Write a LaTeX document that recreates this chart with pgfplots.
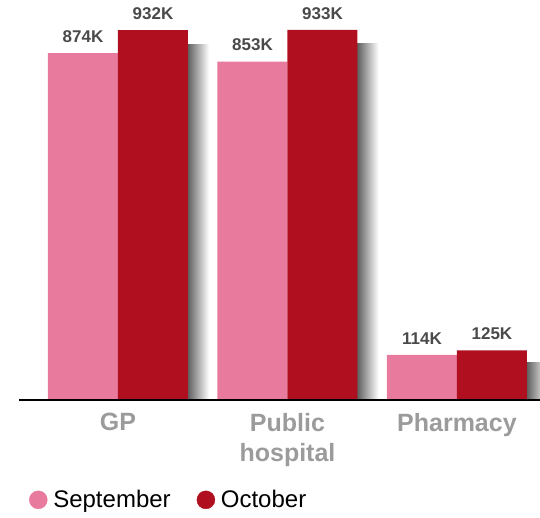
\documentclass[border=0pt]{standalone}
\usepackage{fontspec}
\setmainfont{Liberation Sans}
\usepackage{pgfplots}
\pgfplotsset{compat=1.18}

\definecolor{sepc}{HTML}{E87A9D}
\definecolor{octc}{HTML}{B00F20}
\definecolor{valc}{HTML}{4A4A4A}
\definecolor{catc}{HTML}{9B9B9B}

\pgfplotsset{
  shadowbar/.style={draw=none, bar shift=80pt, bar width=22pt, left color=black!65, right color=white},
  vallabels/.style={nodes near coords={\pgfmathprintnumber{\pgfplotspointmeta}K},
    nodes near coords style={font=\fontsize{17}{20}\selectfont\bfseries, text=valc, yshift=7pt}},
}

\begin{document}
\begin{tikzpicture}
\path[use as bounding box] (0,0) rectangle (540pt,517pt);
\begin{axis}[
  at={(19pt,117pt)}, anchor=south west,
  scale only axis, width=521pt, height=390pt,
  axis on top,
  ybar, bar width=70pt,
  xmin=-0.584, xmax=2.49,
  ymin=0, ymax=983,
  axis x line*=bottom, axis y line=none,
  x axis line style={line width=1.2pt},
  xtick={0,1,2}, major tick length=0pt,
  xticklabels={GP,{Public\\hospital},Pharmacy},
  xticklabel style={font=\fontsize{25}{30}\selectfont\bfseries, text=catc, align=center, yshift=-10pt},
  /pgf/number format/assume math mode=true,
  legend style={at={(axis description cs:0.019,-0.256)}, anchor=west, draw=none, fill=none,
    inner sep=0pt, font=\fontsize{24}{27}\selectfont},
  legend columns=2,
  legend cell align=left,
  /tikz/every even column/.append style={column sep=24pt},
]
\addlegendimage{legend image code/.code={\fill[sepc] (9pt,0pt) circle (9pt); \path[draw=none,fill=none] (0pt,-1pt) rectangle (22pt,1pt);}}
\addlegendentry{September}
\addlegendimage{legend image code/.code={\fill[octc] (9pt,0pt) circle (9pt); \path[draw=none,fill=none] (0pt,-1pt) rectangle (22pt,1pt);}}
\addlegendentry{October}

% soft shadow behind each October bar
\addplot[shadowbar] coordinates {(0,897)};
\addplot[shadowbar] coordinates {(1,898)};
\addplot[shadowbar] coordinates {(2,95)};

\addplot[fill=sepc, draw=none, bar shift=-35pt, vallabels]
  coordinates {(0,874) (1,853) (2,114)};
\addplot[fill=octc, draw=none, bar shift=35pt, vallabels]
  coordinates {(0,932) (1,933) (2,125)};
\end{axis}
\end{tikzpicture}
\end{document}
